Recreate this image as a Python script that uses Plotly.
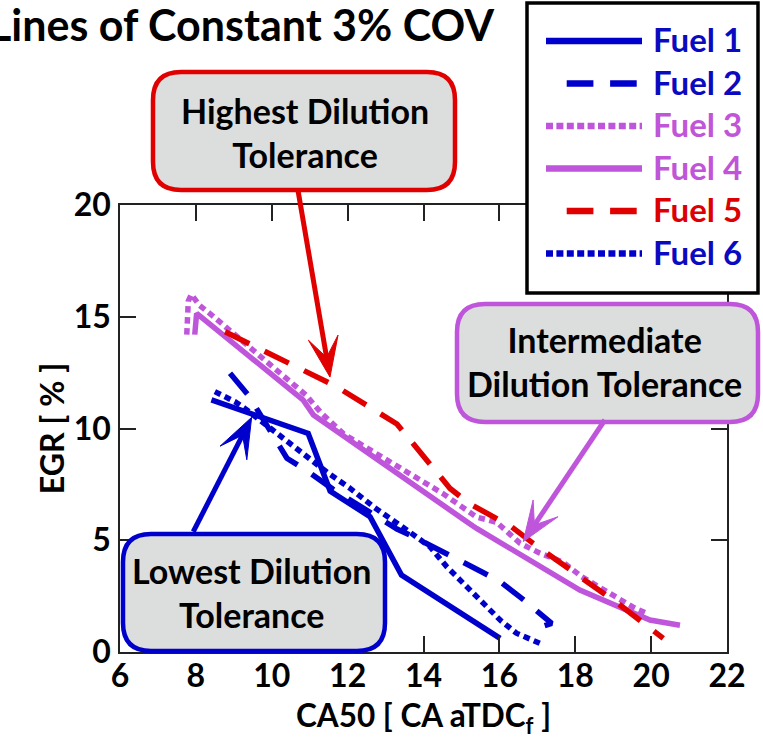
import math
import plotly.graph_objects as go

# ---------------- data ----------------
fuel1_x = [8.41, 10.96, 11.54, 12.59, 13.42, 16.02]
fuel1_y = [11.28, 9.78, 7.2, 6.05, 3.44, 0.61]

fuel2_x = [8.9, 9.4, 10.4, 10.96, 11.6, 12.6, 13.3, 13.73, 14.35, 14.83, 15.53, 16.02, 16.59, 17.38, 16.98]
fuel2_y = [12.47, 11.45, 8.67, 8.07, 7.3, 6.2, 5.5, 5.16, 4.64, 4.19, 3.59, 3.15, 2.4, 1.28, 1.06]

fuel3_x = [7.76, 7.8, 7.88, 8.1, 8.4, 9.87, 10.9, 11.3, 11.9, 14.5, 15.4, 15.93, 16.54, 17.07, 17.68, 18.17, 18.96, 19.57, 19.88]
fuel3_y = [14.2, 15.7, 16.0, 15.5, 15.1, 12.95, 11.5, 10.7, 9.75, 7.1, 6.04, 5.8, 4.87, 4.42, 4.02, 3.37, 2.55, 1.96, 1.73]

fuel4_x = [7.97, 8.02, 10.83, 11.1, 15.14, 15.4, 18.12, 19.97, 20.76]
fuel4_y = [14.2, 15.15, 11.27, 10.6, 5.83, 5.53, 2.77, 1.43, 1.2]

fuel5_x = [8.77, 11.71, 13.3, 14.2, 14.7, 15.2, 15.84, 16.32, 16.89, 18.08, 19.18, 20.32]
fuel5_y = [14.33, 11.87, 10.2, 8.3, 7.32, 6.65, 6.05, 5.6, 4.86, 3.45, 2.1, 0.61]

fuel6_x = [8.5, 9.03, 9.29, 9.91, 10.39, 10.96, 11.49, 12.06, 12.68, 13.56, 14.17, 14.61, 15.49, 16.02, 16.45, 17.15]
fuel6_y = [11.65, 11.2, 10.9, 10.08, 9.49, 8.74, 8.0, 7.33, 6.5, 5.46, 4.71, 3.82, 2.33, 1.43, 0.84, 0.33]

fuel_names = ["Fuel 1", "Fuel 2", "Fuel 3", "Fuel 4", "Fuel 5", "Fuel 6"]
x_tick_vals = [6, 8, 10, 12, 14, 16, 18, 20, 22]
y_tick_vals = [0, 5, 10, 15, 20]

title_text = "Lines of Constant 3% COV"
x_title = "CA50 [ CA aTDC<sub>f</sub> ]"
y_title = "EGR [ % ]"
box_texts = ["Highest Dilution<br>Tolerance",
             "Intermediate<br>Dilution Tolerance",
             "Lowest Dilution<br>Tolerance"]

# arrows: (tail, tip) in data units
arrow_tail = [(10.69, 20.67), (18.78, 10.38), (7.93, 5.38)]
arrow_tip = [(11.535, 12.3), (16.63, 4.94), (9.47, 10.5)]

# ---------------- styling ----------------
BLUE = "#0000CC"
PURPLE = "#BF55DB"
RED = "#E00000"
GREY = "#DCDDDD"
FONT = "Lato"
LW = 5.5
DASH = "27px,17px"
DOT = "6.5px,4.5px"

W, H = 763, 744
ML, MR, MT, MB = 120, 36, 205, 92
PW, PH = W - ML - MR, H - MT - MB
XR = (6, 22)
YR = (0, 20)


def px(xp):
    return (xp - ML) / PW


def py(yp):
    return (H - MB - yp) / PH


def dx2px(v):
    return ML + (v - XR[0]) / (XR[1] - XR[0]) * PW


def dy2px(v):
    return MT + (YR[1] - v) / (YR[1] - YR[0]) * PH


def P(a, b):
    return f"{px(a):.5f},{py(b):.5f}"


def rrect(x0, y0, x1, y1, r):
    return (f"M{P(x0 + r, y0)} L{P(x1 - r, y0)} Q{P(x1, y0)} {P(x1, y0 + r)} "
            f"L{P(x1, y1 - r)} Q{P(x1, y1)} {P(x1 - r, y1)} "
            f"L{P(x0 + r, y1)} Q{P(x0, y1)} {P(x0, y1 - r)} "
            f"L{P(x0, y0 + r)} Q{P(x0, y0)} {P(x0 + r, y0)} Z")


series = [
    (fuel1_x, fuel1_y, BLUE, "solid"),
    (fuel2_x, fuel2_y, BLUE, DASH),
    (fuel3_x, fuel3_y, PURPLE, DOT),
    (fuel4_x, fuel4_y, PURPLE, "solid"),
    (fuel5_x, fuel5_y, RED, DASH),
    (fuel6_x, fuel6_y, BLUE, DOT),
]

fig = go.Figure()
for name, (xs, ys, c, d) in zip(fuel_names, series):
    fig.add_trace(go.Scatter(x=xs, y=ys, mode="lines", name=name,
                             line=dict(color=c, width=LW, dash=d),
                             showlegend=False, hoverinfo="skip"))

shapes = []
annotations = []

# title
annotations.append(dict(text=title_text, xref="paper", yref="paper",
                        x=px(-13), y=py(24), xanchor="left", yanchor="middle",
                        showarrow=False,
                        font=dict(family=FONT, size=43, weight=700, color="black")))

# annotation boxes
boxes = [
    ((153, 72, 455, 190), RED, (305, 132)),
    ((457, 304, 758, 422), PURPLE, (604, 361)),
    ((123, 534, 385, 651), BLUE, (251, 592)),
]
for (b, c, (tx, ty)), t in zip(boxes, box_texts):
    shapes.append(dict(type="path", xref="paper", yref="paper",
                       path=rrect(*b, 28), fillcolor=GREY,
                       line=dict(color=c, width=4.5), layer="above"))
    annotations.append(dict(text=t, xref="paper", yref="paper", x=px(tx), y=py(ty),
                            xanchor="center", yanchor="middle", showarrow=False,
                            font=dict(family=FONT, size=34, weight=700, color="black")))

# arrows drawn as shapes (shaft + barbed head)
for (tx_, ty_), (hx_, hy_), c in zip(arrow_tail, arrow_tip, [RED, PURPLE, BLUE]):
    x0, y0 = dx2px(tx_), dy2px(ty_)
    x1, y1 = dx2px(hx_), dy2px(hy_)
    L = math.hypot(x1 - x0, y1 - y0)
    ux, uy = (x1 - x0) / L, (y1 - y0) / L
    nx, ny = -uy, ux
    HL, HW, NOTCH = 40, 15, 20
    bx1, by1 = x1 - HL * ux + HW * nx, y1 - HL * uy + HW * ny
    bx2, by2 = x1 - HL * ux - HW * nx, y1 - HL * uy - HW * ny
    mx, my = x1 - NOTCH * ux, y1 - NOTCH * uy
    shapes.append(dict(type="line", xref="paper", yref="paper",
                       x0=px(x0), y0=py(y0), x1=px(mx + 4 * ux), y1=py(my + 4 * uy),
                       line=dict(color=c, width=5), layer="above"))
    shapes.append(dict(type="path", xref="paper", yref="paper",
                       path=f"M{P(x1, y1)} L{P(bx1, by1)} L{P(mx, my)} L{P(bx2, by2)} Z",
                       fillcolor=c, line=dict(color=c, width=1), layer="above"))

# legend (drawn manually to match the reference look)
shapes.append(dict(type="rect", xref="paper", yref="paper",
                   x0=px(527), x1=px(758), y0=py(293), y1=py(3),
                   fillcolor="white", line=dict(color="black", width=3.5), layer="above"))
rows = [41, 83.5, 126, 168.5, 211, 253.5]
leg_colors = [BLUE, BLUE, PURPLE, PURPLE, RED, BLUE]
leg_text_colors = ["#0A0AC0", "#0A0AC0", "#C055D8", "#C055D8", "#DD0000", "#0A0AC0"]
leg_dash = ["solid", "26.7px,16.7px", "7px,3.4px", "solid", "26.7px,16.7px", "7px,3.4px"]
leg_x0 = [546, 566.7, 546, 546, 566.7, 546]
leg_x1 = [642, 636.7, 642, 642, 636.7, 642]
for yrow, name, c, tc, d, a, b in zip(rows, fuel_names, leg_colors, leg_text_colors, leg_dash, leg_x0, leg_x1):
    shapes.append(dict(type="line", xref="paper", yref="paper",
                       x0=px(a), x1=px(b), y0=py(yrow), y1=py(yrow),
                       line=dict(color=c, width=6.3, dash=d), layer="above"))
    annotations.append(dict(text=name, xref="paper", yref="paper", x=px(651), y=py(yrow - 2),
                            xanchor="left", yanchor="middle", showarrow=False,
                            font=dict(family=FONT, size=33, weight=700, color=tc)))

axis_common = dict(showline=True, linecolor="#222", linewidth=1.5, mirror="ticks",
                   ticks="inside", ticklen=16, tickwidth=1.5, tickcolor="#222",
                   showgrid=False, zeroline=False,
                   tickfont=dict(family=FONT, size=32, weight=700, color="black"))

fig.update_layout(
    width=W, height=H,
    margin=dict(l=ML, r=MR, t=MT, b=MB, pad=0),
    paper_bgcolor="white", plot_bgcolor="white",
    xaxis=dict(range=list(XR), tickvals=x_tick_vals, ticklabelstandoff=-5,
               title=dict(text=x_title, standoff=12,
                          font=dict(family=FONT, size=31.5, weight=700, color="black")),
               **axis_common),
    yaxis=dict(range=list(YR), tickvals=y_tick_vals, ticklabelstandoff=1,
               title=dict(text=y_title, standoff=0,
                          font=dict(family=FONT, size=32, weight=700, color="black")),
               **axis_common),
    shapes=shapes,
    annotations=annotations,
    showlegend=False,
)

fig.write_html("out.html", config={"displayModeBar": False},
               post_script="document.body.style.margin='0px';document.body.style.overflow='hidden';")
